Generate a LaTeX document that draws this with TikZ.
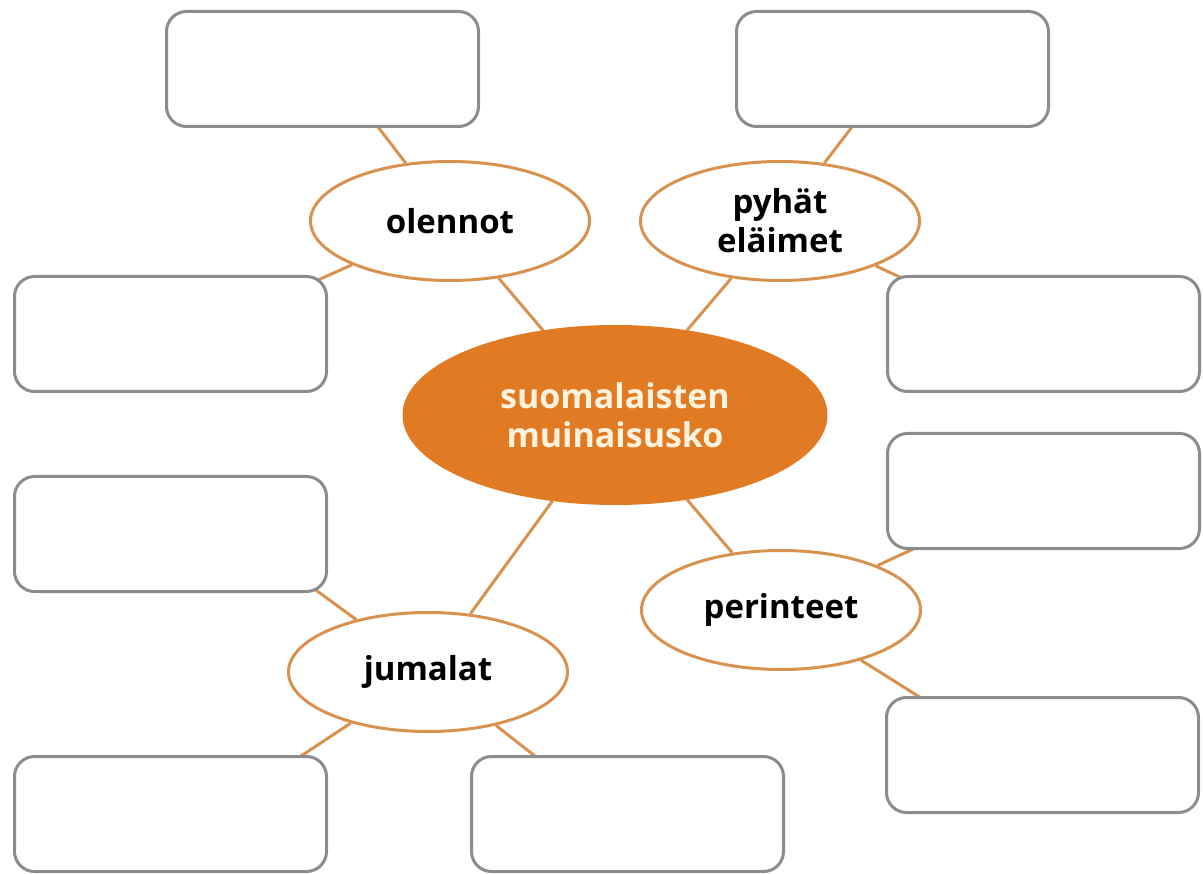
\documentclass[tikz,border=0pt]{standalone}
\usepackage{fontspec}
\setmainfont{Open Sans}
\usetikzlibrary{shapes.geometric,backgrounds,calc}
\definecolor{mindorange}{RGB}{224,123,36}
\definecolor{linkorange}{RGB}{216,146,80}
\definecolor{boxgray}{RGB}{140,140,140}
\definecolor{cream}{RGB}{255,243,222}
\newcommand{\boxwidth}{312pt}
\newcommand{\boxheight}{115pt}

\begin{document}
\begin{tikzpicture}[x=1pt,y=-1pt,
	answer/.style={draw=boxgray, line width=3pt, fill=white, rounded corners=20pt,
		minimum width=\boxwidth, minimum height=\boxheight},
	topic/.style={ellipse, draw=linkorange, line width=3pt, fill=white, inner sep=0pt,
		minimum width=279pt, minimum height=119pt, align=center,
		font=\fontsize{33}{39}\selectfont\bfseries},
	link/.style={linkorange, line width=3pt}]
	\useasboundingbox (0,0) rectangle (1203,874);

	% empty answer boxes
	\node[answer] (tl) at (322.5,69) {};
	\node[answer] (tr) at (892.5,69) {};
	\node[answer] (l1) at (170.5,334) {};
	\node[answer] (r1) at (1043.5,334) {};
	\node[answer] (r2) at (1043.5,491) {};
	\node[answer] (l2) at (170.5,534) {};
	\node[answer] (bl) at (170.5,814) {};
	\node[answer] (bm) at (627.5,814) {};
	\node[answer] (r3) at (1042.5,755) {};

	\node[topic, fill=mindorange, draw=mindorange, minimum width=422pt, minimum height=177pt,
		text=cream, font=\fontsize{34}{39}\selectfont\bfseries] (usko) at (615,415)
		{suomalaisten\\muinaisusko};
	\node[topic] (olennot) at (450,221) {olennot};
	\node[topic] (elaimet) at (780,221) {pyhät\\eläimet};
	\node[topic] (perinteet) at (781,610) {perinteet};
	\node[topic] (jumalat) at (428,672) {jumalat};

	\begin{pgfonlayer}{background}
	\draw[link] (usko) -- (olennot);
	\draw[link] (usko) -- (elaimet);
	\draw[link] (usko) -- (perinteet);
	\draw[link] (usko) -- (jumalat);
	\draw[link] (olennot) -- ($(tl.south west)+(210,-5)$);
	\draw[link] (olennot) -- ($(l1.north east)+(-10,5)$);
	\draw[link] (elaimet) -- ($(tr.south west)+(120,-5)$);
	\draw[link] (elaimet) -- ($(r1.north west)+(20,5)$);
	\draw[link] (perinteet) -- ($(r2.south west)+(36,-5)$);
	\draw[link] (perinteet) -- ($(r3.north west)+(41,5)$);
	\draw[link] (jumalat) -- ($(l2.south east)+(-15,-5)$);
	\draw[link] (jumalat) -- ($(bl.north east)+(-33,5)$);
	\draw[link] (jumalat) -- ($(bm.north west)+(70,5)$);
	\end{pgfonlayer}
\end{tikzpicture}
\end{document}
